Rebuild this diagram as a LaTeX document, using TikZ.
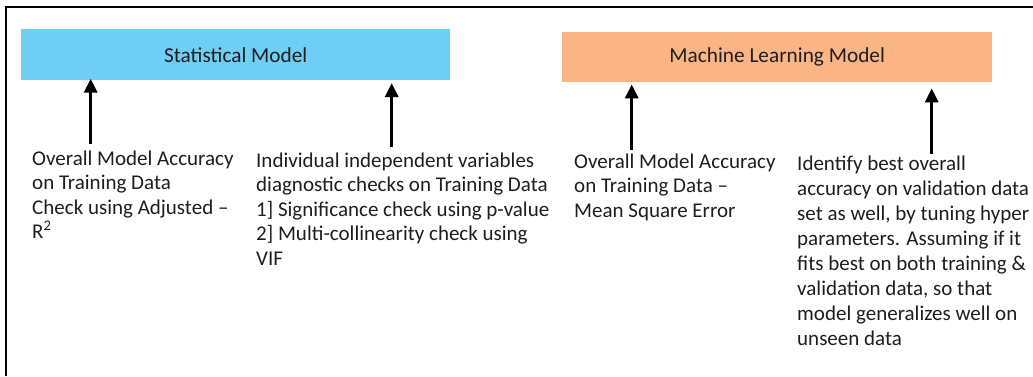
\documentclass[tikz,border=0pt]{standalone}
\usepackage{fontspec}
\setmainfont{Carlito}
\usepackage{tikz}
\usetikzlibrary{arrows.meta, positioning, calc}
\definecolor{statblue}{RGB}{110,206,246}
\definecolor{mlorange}{RGB}{251,181,132}
\definecolor{txtgray}{RGB}{30,30,30}
\tikzset{
  modelbox/.style={inner sep=0pt, anchor=north west, text=txtgray,
    font=\fontsize{21.3}{24}\selectfont},
  notes/.style={anchor=base west, inner sep=0pt, align=left, text=txtgray,
    font=\fontsize{21}{24.5}\selectfont},
  uparrow/.style={line width=3.3pt, -{Triangle[width=13pt,length=14pt]}}
}
\begin{document}
\begin{tikzpicture}[x=1pt, y=-1pt]
        \useasboundingbox (0,0) rectangle (1033,376);
        % frame
        \draw[line width=2pt] (6,376) -- (6,7) -- (1033,7);
        % the two models
        \node[modelbox, fill=statblue, minimum width=429pt, minimum height=51pt] (stat) at (21,29) {Statistical Model};
        \node[modelbox, fill=mlorange, minimum width=430pt, minimum height=50pt] (ml) at (562,32) {Machine Learning Model};
        % notes under them (placed by the baseline of their last line)
        \node[notes] (n1) at (32,238.5) {Overall Model Accuracy\\on Training Data\\Check using Adjusted –\\R\textsuperscript{2}};
        \node[notes] (n2) at (256,265) {Individual independent variables\\diagnostic checks on Training Data\\1] Significance check using p-value\\2] Multi-collinearity check using\\VIF};
        \node[notes] (n3) at (574,217) {Overall Model Accuracy\\on Training Data –\\Mean Square Error};
        \node[notes, font=\fontsize{21}{25}\selectfont] (n4) at (797,345) {Identify best overall\\accuracy on validation data\\set as well, by tuning hyper\\parameters. Assuming if it\\fits best on both training \&\\validation data, so that\\model generalizes well on\\unseen data};
        % arrows
        \coordinate (a1) at (90.7,144);
        \coordinate (a2) at (391.7,147);
        \coordinate (a3) at (631.7,150);
        \coordinate (a4) at (931.7,154);
        \draw[uparrow] (a1) -- ([yshift=1.7pt]stat.south -| a1);
        \draw[uparrow] (a2) -- ([yshift=-2.7pt]stat.south -| a2);
        \draw[uparrow] (a3) -- ([yshift=-2pt]ml.south -| a3);
        \draw[uparrow] (a4) -- ([yshift=-6pt]ml.south -| a4);
\end{tikzpicture}
\end{document}
